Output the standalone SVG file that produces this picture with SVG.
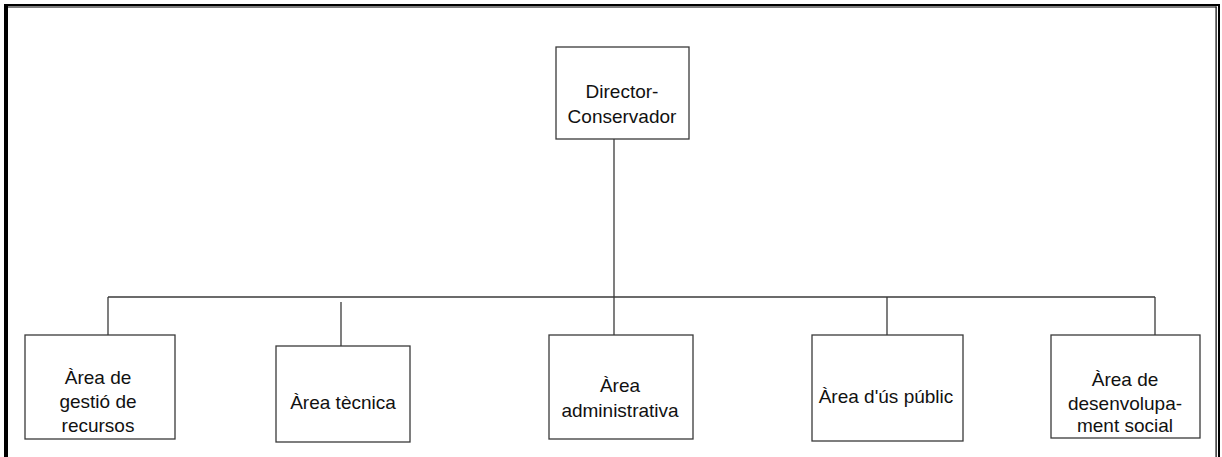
<svg xmlns="http://www.w3.org/2000/svg" width="1222" height="457" viewBox="0 0 1222 457">
<style>
  .box { fill: #ffffff; stroke: #3a3a3a; stroke-width: 1.3; }
  .lbl { font-family: "Liberation Sans", Arial, sans-serif; font-size: 19px; fill: #111111; text-anchor: middle; }
  .conn line { stroke: #3a3a3a; stroke-width: 1.3; }
</style>
<rect width="1222" height="457" fill="#ffffff"/>
<g id="frame" fill="#000000">
  <rect x="4" y="4" width="1216" height="2"/>
  <rect x="8" y="6.5" width="1208.5" height="1"/>
  <rect x="4" y="4" width="4" height="453"/>
  <rect x="1215.5" y="6.5" width="1.2" height="451"/>
  <rect x="1218" y="4" width="2" height="453"/>
</g>
<g id="connectors" class="conn">
  <line x1="614" y1="139" x2="614" y2="335"/>
  <line x1="108" y1="297" x2="1155" y2="297"/>
  <line x1="108" y1="297" x2="108" y2="335"/>
  <line x1="341" y1="302" x2="341" y2="346"/>
  <line x1="887" y1="297" x2="887" y2="335"/>
  <line x1="1155" y1="297" x2="1155" y2="335"/>
</g>
<g id="node-director">
  <rect class="box" x="556" y="47" width="133" height="92"/>
  <text class="lbl" x="622" y="98">Director-</text>
  <text class="lbl" x="622" y="123">Conservador</text>
</g>
<g id="node-gestio">
  <rect class="box" x="25" y="335" width="150" height="104"/>
  <text class="lbl" x="98" y="383.5">Àrea de</text>
  <text class="lbl" x="98" y="407.5">gestió de</text>
  <text class="lbl" x="98" y="431.5">recursos</text>
</g>
<g id="node-tecnica">
  <rect class="box" x="276" y="346" width="134" height="96"/>
  <text class="lbl" x="343" y="409">Àrea tècnica</text>
</g>
<g id="node-administrativa">
  <rect class="box" x="549" y="335" width="144" height="104"/>
  <text class="lbl" x="620" y="392">Àrea</text>
  <text class="lbl" x="620" y="417">administrativa</text>
</g>
<g id="node-uspublic">
  <rect class="box" x="812" y="335" width="151" height="106"/>
  <text class="lbl" x="886" y="402.5">Àrea d'ús públic</text>
</g>
<g id="node-social">
  <rect class="box" x="1051" y="335" width="149" height="103"/>
  <text class="lbl" x="1125" y="386">Àrea de</text>
  <text class="lbl" x="1125" y="409.5">desenvolupa-</text>
  <text class="lbl" x="1125" y="432">ment social</text>
</g>
</svg>
